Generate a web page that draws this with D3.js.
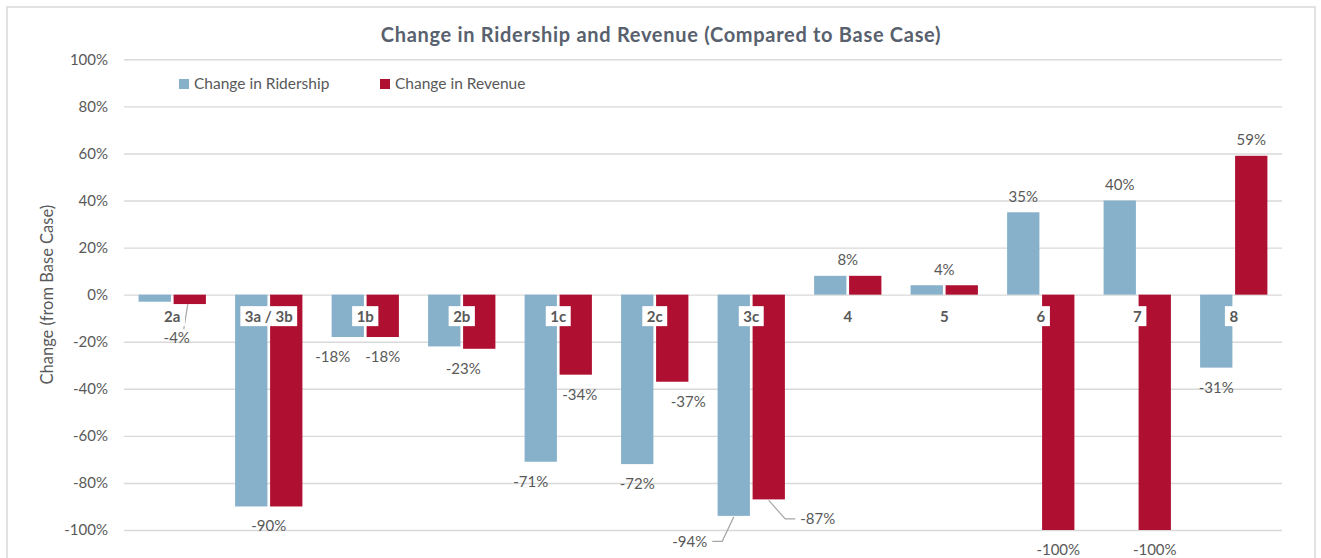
<!DOCTYPE html>
<html>
<head>
<meta charset="utf-8">
<script src="https://cdn.jsdelivr.net/npm/d3@7"></script>
<style>
body { margin: 0; background: #fff; }
text { font-family: Lato, "Open Sans", sans-serif; }
</style>
</head>
<body>
<div id="chart"></div>
<script>
var categories = ["2a", "3a / 3b", "1b", "2b", "1c", "2c", "3c", "4", "5", "6", "7", "8"];
var ridership = [-3, -90, -18, -22, -71, -72, -94, 8, 4, 35, 40, -31];
var revenue = [-4, -90, -18, -23, -34, -37, -87, 8, 4, -100, -100, 59];
// which data labels are visible per category
var labelMode = ["revenue", "shared", "both", "revenue", "both", "both", "both", "shared", "shared", "both", "both", "both"];
var seriesNames = ["Change in Ridership", "Change in Revenue"];
var yTicks = [-100, -80, -60, -40, -20, 0, 20, 40, 60, 80, 100];

var w = 1321;
var h = 558;
var plotLeft = 124;
var plotRight = 1282;
var plotTop = 59.3;
var plotBottom = 530;
var colors = {ridership: "#87b1cb", revenue: "#af1031"};
var textGray = "#595959";

var svg = d3.select("#chart")
            .append("svg")
            .attr("width", w)
            .attr("height", h);

svg.append("rect")
   .attr("x", 7).attr("y", 7)
   .attr("width", 1308).attr("height", h)
   .attr("fill", "#fff")
   .attr("stroke", "#d9d9d9")
   .attr("stroke-width", 1.5);

var x0 = d3.scaleBand()
           .domain(categories)
           .range([plotLeft, plotRight])
           .paddingInner(0.3026)
           .paddingOuter(0.1513);

var x1 = d3.scaleBand()
           .domain(["ridership", "revenue"])
           .range([0, x0.bandwidth()])
           .paddingInner(0.077);

var y = d3.scaleLinear()
          .domain([-100, 100])
          .range([plotBottom, plotTop]);

// gridlines + tick labels
var yAxis = svg.append("g")
               .attr("transform", "translate(" + plotLeft + ",0)")
               .call(d3.axisLeft(y)
                       .tickValues(yTicks)
                       .tickFormat(function(d) { return d + "%"; })
                       .tickSize(-(plotRight - plotLeft))
                       .tickPadding(16));
yAxis.select(".domain").remove();
yAxis.selectAll(".tick line")
     .attr("stroke", "#d9d9d9")
     .attr("stroke-width", 1.4);
yAxis.selectAll(".tick text")
     .attr("fill", textGray)
     .style("font-size", "15px")
     .style("font-family", "Lato, sans-serif");

svg.append("text")
   .attr("transform", "translate(53," + y(0) + ") rotate(-90)")
   .attr("text-anchor", "middle")
   .attr("fill", textGray)
   .style("font-size", "16.5px")
   .text("Change (from Base Case)");

svg.append("text")
   .attr("x", 661)
   .attr("y", 42)
   .attr("text-anchor", "middle")
   .attr("fill", "#58616d")
   .style("font-size", "20px")
   .style("font-weight", "bold")
   .style("letter-spacing", "0.7px")
   .text("Change in Ridership and Revenue (Compared to Base Case)");

// legend
var legendX = [179, 380];
["ridership", "revenue"].forEach(function(key, i) {
   svg.append("rect")
      .attr("x", legendX[i]).attr("y", 79)
      .attr("width", 10).attr("height", 10)
      .attr("fill", colors[key]);
   svg.append("text")
      .attr("x", legendX[i] + 15).attr("y", 89)
      .attr("fill", textGray)
      .style("font-size", "15.5px")
      .text(seriesNames[i]);
});

var rows = categories.map(function(c, i) {
   return {cat: c, ridership: ridership[i], revenue: revenue[i], mode: labelMode[i]};
});

var groups = svg.selectAll(".group")
                .data(rows)
                .enter().append("g")
                .attr("class", "group")
                .attr("transform", function(d) { return "translate(" + x0(d.cat) + ",0)"; });

groups.selectAll("rect")
      .data(function(d) {
         return ["ridership", "revenue"].map(function(k) { return {key: k, value: d[k]}; });
      })
      .enter().append("rect")
      .attr("x", function(d) { return x1(d.key); })
      .attr("y", function(d) { return y(Math.max(0, d.value)); })
      .attr("width", x1.bandwidth())
      .attr("height", function(d) { return Math.abs(y(d.value) - y(0)); })
      .attr("fill", function(d) { return colors[d.key]; });

// data labels
var nudge = {
   "2a|revenue": {dx: -13, dy: 14, leader: "short"},
   "1b|ridership": {dx: -15},
   "2b|revenue": {dx: -16},
   "1c|ridership": {dx: -10},
   "1c|revenue": {dx: 4},
   "2c|revenue": {dx: 16},
   "3c|ridership": {dx: -44, dy: 6, leader: "left"},
   "3c|revenue": {dx: 49, leader: "right"}
};

var labels = [];
rows.forEach(function(d) {
   if (d.mode === "shared") {
      var v = d.ridership;
      labels.push({cat: d.cat, key: "shared", value: v,
                   bx: x0(d.cat) + x0.bandwidth() / 2, end: y(v)});
      return;
   }
   ["ridership", "revenue"].forEach(function(k) {
      if (d.mode === "both" || d.mode === k) {
         labels.push({cat: d.cat, key: k, value: d[k],
                      bx: x0(d.cat) + x1(k) + x1.bandwidth() / 2, end: y(d[k])});
      }
   });
});

labels.forEach(function(l) {
   var n = nudge[l.cat + "|" + l.key] || {};
   l.x = l.bx + (n.dx || 0);
   l.y = (l.value < 0 ? l.end + 25 : l.end - 10.5) + (n.dy || 0);
   l.leader = n.leader;
});

var leaders = svg.append("g")
                 .attr("fill", "none")
                 .attr("stroke", "#a6a6a6")
                 .attr("stroke-width", 1.2);

var labelText = svg.selectAll(".dlabel")
   .data(labels)
   .enter().append("text")
   .attr("class", "dlabel")
   .attr("x", function(d) { return d.x; })
   .attr("y", function(d) { return d.y; })
   .attr("text-anchor", "middle")
   .attr("fill", textGray)
   .style("font-size", "15px")
   .text(function(d) { return d.value + "%"; });

labelText.each(function(d) {
   if (!d.leader) return;
   var half = this.getComputedTextLength() / 2;
   var cy = d.y - 5.5;
   var p = d3.path();
   if (d.leader === "left") {
      p.moveTo(d.bx, d.end + 1);
      p.lineTo(d.x + half + 15, cy);
      p.lineTo(d.x + half + 5, cy);
   } else if (d.leader === "right") {
      p.moveTo(d.bx, d.end + 1);
      p.lineTo(d.x - half - 15, cy);
      p.lineTo(d.x - half - 5, cy);
   } else {
      p.moveTo(d.bx - 2, d.end);
      p.lineTo(d.x + 7, d.y - 14);
   }
   leaders.append("path").attr("d", p.toString());
});

// category labels with white boxes
var catG = svg.selectAll(".cat")
              .data(categories)
              .enter().append("g")
              .attr("class", "cat");

catG.append("text")
    .attr("x", function(d) { return x0(d) + x0.bandwidth() / 2; })
    .attr("y", y(0) + 27)
    .attr("text-anchor", "middle")
    .attr("fill", textGray)
    .style("font-size", "15px")
    .style("font-weight", "bold")
    .text(function(d) { return d; });

catG.each(function() {
   var t = d3.select(this).select("text");
   var bb = t.node().getBBox();
   d3.select(this).insert("rect", "text")
      .attr("x", bb.x - 4.5)
      .attr("y", y(0) + 11.5)
      .attr("width", bb.width + 9)
      .attr("height", 20)
      .attr("fill", "#fff");
});
</script>
</body>
</html>
